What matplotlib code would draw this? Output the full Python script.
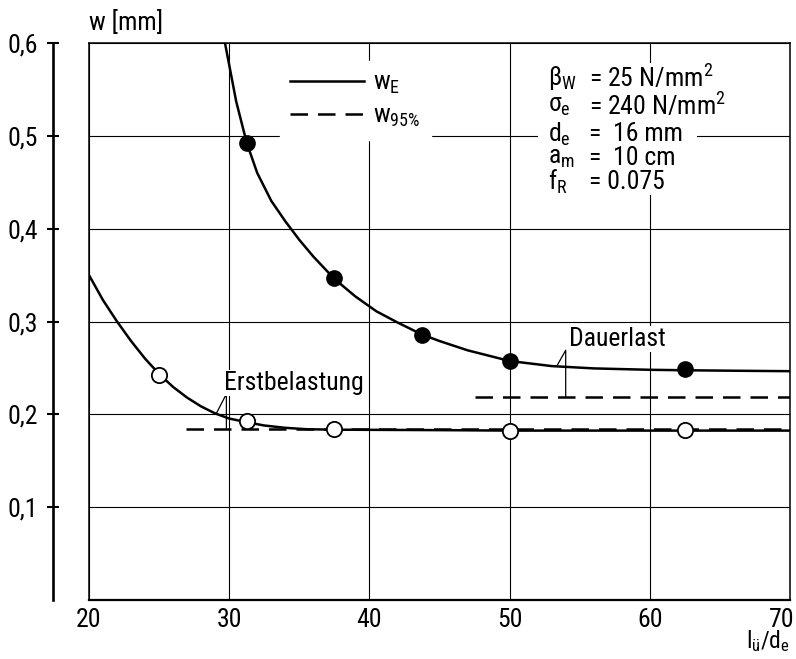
import matplotlib
matplotlib.use('Agg')
import matplotlib.pyplot as plt
import matplotlib.transforms as mtransforms
from matplotlib import font_manager
from matplotlib.lines import Line2D
from matplotlib.patches import Rectangle

# Font: a narrow sans, first one that is installed
installed = {f.name for f in font_manager.fontManager.ttflist}
wanted = ['Roboto Condensed', 'Liberation Sans Narrow', 'Open Sans Condensed', 'Roboto']
fontName = [name for name in wanted if name in installed][0]
plt.rcParams['font.family'] = [fontName, 'DejaVu Sans']
plt.rcParams['mathtext.fontset'] = 'custom'
plt.rcParams['mathtext.rm'] = fontName
plt.rcParams['mathtext.it'] = fontName
plt.rcParams['mathtext.bf'] = fontName
plt.rcParams['font.size'] = 18.5

# Data
## measured points
dauerX = [31.25, 37.5, 43.75, 50, 62.5]
dauerY = [0.4925, 0.347, 0.2855, 0.2575, 0.249]
erstX = [25, 31.25, 37.5, 50, 62.5]
erstY = [0.2425, 0.193, 0.184, 0.182, 0.183]

## w_E curves
dauerCurveX = [29.7, 30.5, 31.25, 32, 33, 34, 35, 36, 37.5, 39, 40.5, 42, 43.75,
               45, 47, 50, 53, 56, 60, 62.5, 66, 70]
dauerCurveY = [0.600, 0.537, 0.4925, 0.460, 0.430, 0.408, 0.388, 0.370, 0.346,
               0.327, 0.311, 0.299, 0.286, 0.279, 0.269, 0.2575, 0.252, 0.2495,
               0.248, 0.2475, 0.247, 0.2465]
erstCurveX = [20, 21, 22, 23, 24, 25, 26, 27, 28, 29, 30, 31.25, 32.5, 34, 35.5,
              37.5, 45, 50, 62.5, 70]
erstCurveY = [0.350, 0.323, 0.300, 0.279, 0.260, 0.2435, 0.2295, 0.218, 0.2085,
              0.201, 0.1955, 0.1915, 0.188, 0.1855, 0.184, 0.1835, 0.183, 0.1825,
              0.1825, 0.1825]

## w_95% lines
dauer95X = [47.5, 70]
dauer95Y = [0.219, 0.219]
erst95X = [26.9, 70]
erst95Y = [0.184, 0.184]

xTicks = [20, 30, 40, 50, 60, 70]
yTicks = [0.1, 0.2, 0.3, 0.4, 0.5, 0.6]
yTickLabels = ['0,1', '0,2', '0,3', '0,4', '0,5', '0,6']

# Base plot
fig = plt.figure(figsize=(7.96, 6.59), dpi=100)
ax = fig.add_axes([0.1118, 0.0895, 0.8807, 0.8452])
ax.set_xlim(20, 70)
ax.set_ylim(0, 0.6)

ax.set_xticks(xTicks)
ax.set_yticks(yTicks)
ax.set_yticklabels(yTickLabels)
ax.grid(True, color='black', linewidth=0.8)
ax.set_axisbelow(True)

## axes: detached y axis, frame round the plot
ax.spines['left'].set_position(('outward', 26))
ax.spines['left'].set_bounds(0, 0.6)
ax.spines['left'].set_linewidth(1.9)
for side in ['top', 'right']:
    ax.spines[side].set_linewidth(1.1)
ax.spines['bottom'].set_linewidth(1.6)
ax.plot([0, 0], [0, 1], transform=ax.transAxes, color='black', lw=1.1, clip_on=False)
ax.tick_params(axis='y', direction='inout', length=8, width=1.5, pad=7)
ax.tick_params(axis='x', length=0, pad=6)

## last x label sits flush with the right edge
lastLabel = ax.get_xticklabels()[-1]
lastLabel.set_horizontalalignment('right')
lastLabel.set_transform(lastLabel.get_transform() +
                        mtransforms.ScaledTranslation(4 / 100, 0, fig.dpi_scale_trans))

## curves
lineStyle = {'color': 'black', 'lw': 1.8, 'zorder': 3}
dashStyle = {'color': 'black', 'lw': 1.8, 'dashes': (7, 4), 'zorder': 3}
ax.plot(dauerCurveX, dauerCurveY, **lineStyle)
ax.plot(erstCurveX, erstCurveY, **lineStyle)
ax.plot(dauer95X, dauer95Y, **dashStyle)
ax.plot(erst95X, erst95Y, **dashStyle)

## points
ax.plot(dauerX, dauerY, 'o', ms=11, mfc='black', mec='black', zorder=4)
ax.plot(erstX, erstY, 'o', ms=11, mfc='white', mec='black', mew=1.3, zorder=4)

## leader lines and labels
leader = {'color': 'black', 'lw': 0.9, 'zorder': 3}
ax.plot([53.4, 54.0, 54.0], [0.253, 0.269, 0.219], **leader)
ax.text(54.2, 0.281, 'Dauerlast', va='center', ha='left', zorder=5,
        bbox=dict(facecolor='white', edgecolor='none', pad=0.5))
ax.plot([29.1, 29.8, 29.8], [0.2015, 0.222, 0.184], **leader)
ax.text(29.6, 0.234, 'Erstbelastung', va='center', ha='left', zorder=5,
        bbox=dict(facecolor='white', edgecolor='none', pad=0.5))

## legend
handles = [Line2D([], [], color='black', lw=1.8),
           Line2D([], [], color='black', lw=1.8, dashes=(7, 4))]
leg = ax.legend(handles, ['$w_E$', '$w_{95\\%}$'], loc='upper left',
                bbox_to_anchor=(0.272, 0.968), borderaxespad=0, handlelength=2.9,
                handletextpad=0.35, labelspacing=0.3, fancybox=False,
                framealpha=1, edgecolor='white', facecolor='white')
leg.set_zorder(5)

## parameter box
ax.add_patch(Rectangle((0.640, 0.727), 0.227, 0.237, transform=ax.transAxes,
                       facecolor='white', edgecolor='none', zorder=2))
paramNames = ['$\\beta_W$', '$\\sigma_e$', '$d_e$', '$a_m$', '$f_R$']
paramValues = ['= 25 N/mm$^2$', '= 240 N/mm$^2$', '=  16 mm', '=  10 cm', '= 0.075']
paramRows = [0.937, 0.887, 0.836, 0.794, 0.751]
for name, value, row in zip(paramNames, paramValues, paramRows):
    ax.text(0.655, row, name, transform=ax.transAxes, va='center', ha='left', zorder=5)
    ax.text(0.713, row, value, transform=ax.transAxes, va='center', ha='left', zorder=5)

## axis titles
ax.text(0.0, 1.036, 'w [mm]', transform=ax.transAxes, va='center', ha='left')
ax.text(0.999, -0.097, '$l_{ü}/d_e$', transform=ax.transAxes, va='bottom', ha='right',
        fontsize=17)

fig.savefig('out.png', dpi=100)
plt.close('all')
